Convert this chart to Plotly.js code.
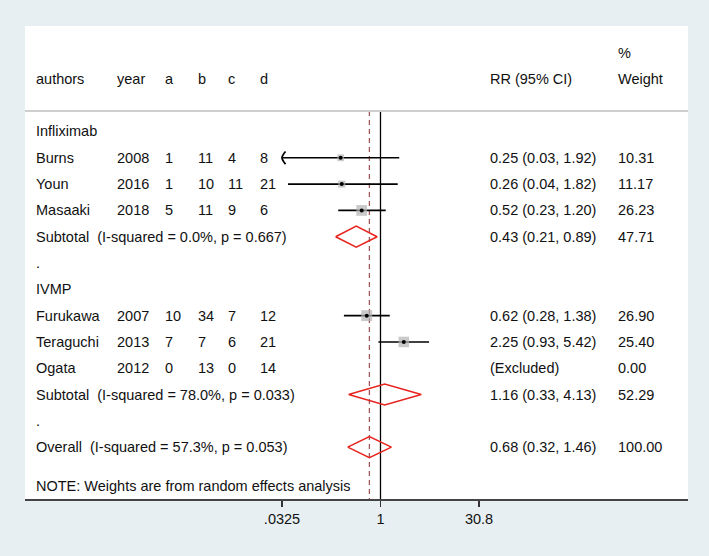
<!DOCTYPE html>
<html>
<head>
<meta charset="utf-8">
<script src="https://cdn.plot.ly/plotly-3.0.1.min.js"></script>
<style>
  body { margin: 0; padding: 0; background: #e8eff2; }
  #plot { width: 709px; height: 556px; }
</style>
</head>
<body>
<div id="plot"></div>
<script>
// study data
var authors = ["Burns", "Youn", "Masaaki", "Furukawa", "Teraguchi", "Ogata"];
var years = [2008, 2016, 2018, 2007, 2013, 2012];
var colA = [1, 1, 5, 10, 7, 0];
var colB = [11, 10, 11, 34, 7, 13];
var colC = [4, 11, 9, 7, 6, 0];
var colD = [8, 21, 6, 12, 21, 14];
var studyGroup = ["Infliximab", "Infliximab", "Infliximab", "IVMP", "IVMP", "IVMP"];
var rr = [0.25, 0.26, 0.52, 0.62, 2.25, null];
var rrLow = [0.03, 0.04, 0.23, 0.28, 0.93, null];
var rrHigh = [1.92, 1.82, 1.20, 1.38, 5.42, null];
var weight = [10.31, 11.17, 26.23, 26.90, 25.40, 0.00];

// subgroup pooled results
var groups = ["Infliximab", "IVMP"];
var subRR = [0.43, 1.16];
var subLow = [0.21, 0.33];
var subHigh = [0.89, 4.13];
var subWeight = [47.71, 52.29];
var subI2 = ["0.0%", "78.0%"];
var subP = ["0.667", "0.033"];

// overall pooled result
var overallRR = 0.68;
var overallLow = 0.32;
var overallHigh = 1.46;
var overallI2 = "57.3%";
var overallP = "0.053";

// x axis ticks
var tickVals = [0.0325, 1, 30.8];
var tickText = [".0325", "1", "30.8"];

var noteText = "NOTE: Weights are from random effects analysis";

// ---------- layout helpers ----------
var plotLeft = 25, plotWidth = 663;
function px(p) { return (p - plotLeft) / plotWidth; }

var colX = { authors: 34, year: 115, a: 163, b: 196, c: 226, d: 258, rr: 488, wt: 616 };
var font = { family: "Liberation Sans, Arial, sans-serif", size: 14.5, color: "#111111" };
var annotations = [];

function addText(col, row, txt) {
  annotations.push({
    x: px(colX[col]), xref: "paper", xanchor: "left",
    y: row, yref: "y", yanchor: "middle",
    text: txt, showarrow: false, font: font
  });
}

function fmtCI(e, l, h) {
  return e.toFixed(2) + " (" + l.toFixed(2) + ", " + h.toFixed(2) + ")";
}

var xMin = tickVals[0], xMax = tickVals[tickVals.length - 1];

// header
var headRow = -2.0;
addText("authors", headRow, "authors");
addText("year", headRow, "year");
addText("a", headRow, "a");
addText("b", headRow, "b");
addText("c", headRow, "c");
addText("d", headRow, "d");
addText("rr", headRow, "RR (95% CI)");
addText("wt", headRow - 0.98, "%");
addText("wt", headRow, "Weight");

// marks
var ciX = [], ciY = [];
var sqX = [], sqY = [], sqS = [];
var arrowX = [], arrowY = [];
var diaX = [], diaY = [];

function addDiamond(row, e, l, h) {
  diaX.push(l, e, h, e, l, null);
  diaY.push(row, row - 0.4, row, row + 0.4, row, null);
}

var row = 0;
groups.forEach(function(g, gi) {
  addText("authors", row, g);
  row++;
  for (var i = 0; i < authors.length; i++) {
    if (studyGroup[i] !== g) continue;
    addText("authors", row, authors[i]);
    addText("year", row, String(years[i]));
    addText("a", row, String(colA[i]));
    addText("b", row, String(colB[i]));
    addText("c", row, String(colC[i]));
    addText("d", row, String(colD[i]));
    if (rr[i] === null) {
      addText("rr", row, "(Excluded)");
    } else {
      addText("rr", row, fmtCI(rr[i], rrLow[i], rrHigh[i]));
      var lo = Math.max(rrLow[i], xMin);
      var hi = Math.min(rrHigh[i], xMax);
      ciX.push(lo, hi, null);
      ciY.push(row, row, null);
      sqX.push(rr[i]); sqY.push(row); sqS.push(2.1 * Math.sqrt(weight[i]));
      // clipped interval gets a curved arrow head at the axis end
      if (rrLow[i] < xMin) {
        arrowX.push([xMin * 1.13, xMin, xMin * 1.13]);
        arrowY.push([row - 0.24, row, row + 0.24]);
      }
    }
    addText("wt", row, weight[i].toFixed(2));
    row++;
  }
  addText("authors", row, "Subtotal\u00a0\u00a0(I-squared = " + subI2[gi] + ", p = " + subP[gi] + ")");
  addText("rr", row, fmtCI(subRR[gi], subLow[gi], subHigh[gi]));
  addText("wt", row, subWeight[gi].toFixed(2));
  addDiamond(row, subRR[gi], subLow[gi], subHigh[gi]);
  row++;
  addText("authors", row, ".");
  row++;
});

addText("authors", row, "Overall\u00a0\u00a0(I-squared = " + overallI2 + ", p = " + overallP + ")");
addText("rr", row, fmtCI(overallRR, overallLow, overallHigh));
addText("wt", row, (100).toFixed(2));
addDiamond(row, overallRR, overallLow, overallHigh);
addText("authors", row + 1.48, noteText);

var lineTop = -0.78, lineBottom = 13.97;

var traces = [
  {
    x: [1, 1], y: [lineTop, lineBottom], mode: "lines",
    line: { color: "#000000", width: 1.3 }, hoverinfo: "skip"
  },
  {
    x: [overallRR, overallRR], y: [lineTop, lineBottom], mode: "lines",
    line: { color: "#a0555a", width: 1.3, dash: "5px,4px" }, hoverinfo: "skip"
  },
  {
    x: ciX, y: ciY, mode: "lines",
    line: { color: "#000000", width: 1.6 }, hoverinfo: "skip"
  }
];

arrowX.forEach(function(ax, k) {
  traces.push({
    x: ax, y: arrowY[k], mode: "lines",
    line: { color: "#000000", width: 1.8, shape: "spline" }, hoverinfo: "skip"
  });
});

traces.push(
  {
    x: sqX, y: sqY, mode: "markers",
    marker: { symbol: "square", size: sqS, color: "#b3b3b3", line: { width: 0 } },
    hoverinfo: "skip"
  },
  {
    x: sqX, y: sqY, mode: "markers",
    marker: { symbol: "circle", size: 4, color: "#000000" }, hoverinfo: "skip"
  },
  {
    x: diaX, y: diaY, mode: "lines",
    line: { color: "#e8231d", width: 1.5 }, hoverinfo: "skip"
  }
);

// pixel positions of the outer ticks decide the log range of the axis
var leftTickPx = 282, rightTickPx = 479;
var pxPerDec = (rightTickPx - leftTickPx) / (Math.log10(xMax) - Math.log10(xMin));
var xRange = [
  Math.log10(xMin) - (leftTickPx - plotLeft) / pxPerDec,
  Math.log10(xMax) + (plotLeft + plotWidth - rightTickPx) / pxPerDec
];

var layout = {
  width: 709,
  height: 556,
  margin: { l: 25, r: 21, t: 26, b: 57 },
  paper_bgcolor: "#e8eff2",
  plot_bgcolor: "#ffffff",
  showlegend: false,
  xaxis: {
    type: "log",
    range: xRange,
    tickvals: tickVals,
    ticktext: tickText,
    ticks: "outside",
    ticklen: 6,
    tickwidth: 1.3,
    tickcolor: "#333333",
    showline: true,
    linecolor: "#444444",
    linewidth: 2,
    showgrid: false,
    zeroline: false,
    tickfont: font
  },
  yaxis: {
    range: [lineBottom, -4.01],
    visible: false,
    showgrid: false,
    zeroline: false
  },
  shapes: [
    {
      type: "line", xref: "paper", yref: "y",
      x0: 0, x1: 1, y0: lineTop, y1: lineTop,
      line: { color: "#cfcfcf", width: 2 }
    }
  ],
  annotations: annotations
};

Plotly.newPlot("plot", traces, layout, { displayModeBar: false, staticPlot: true });
</script>
</body>
</html>
